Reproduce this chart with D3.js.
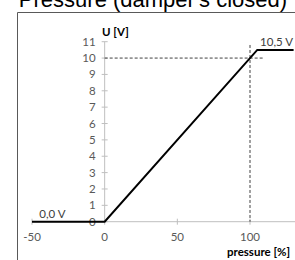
<!DOCTYPE html>
<html><head><meta charset="utf-8">
<script src="https://cdn.jsdelivr.net/npm/d3@7"></script>
<style>body{margin:0;background:#fff}svg{display:block}</style>
</head><body>
<script>
const pressure = [-50, 0, 105, 130];
const voltage = [0, 0, 10.5, 10.5];
const xTicks = [-50, 0, 50, 100];
const yTicks = [0,1,2,3,4,5,6,7,8,9,10,11];
const refX = 100, refY = 10;
const labelStart = "0,0 V", labelEnd = "10,5 V";
const title = "Pressure (damper's closed)";

const W = 295, H = 260;
const svg = d3.select("body").append("svg").attr("width", W).attr("height", H);
const x = d3.scaleLinear().domain([-50, 100]).range([32, 250]);
const y = d3.scaleLinear().domain([0, 11]).range([221.7, 41.7]);
const font = "Lato, 'Open Sans', sans-serif";
const fs = 11.5;

svg.append("text").attr("x", 153).attr("y", 7).attr("text-anchor", "middle")
  .attr("font-family", "'Liberation Sans', Arial, sans-serif").attr("font-size", 22)
  .attr("fill", "#000").text(title);

svg.append("path").attr("d", `M17.5,${H+2}V12.5H${W+2}`).attr("fill", "none")
  .attr("stroke", "#595959").attr("stroke-width", 1);

// axes
const gx = svg.append("g").attr("transform", `translate(0,${y(0)})`);
gx.append("line").attr("x1", x(-50)).attr("x2", W).attr("stroke", "#bfbfbf");
gx.selectAll("line.t").data(xTicks).join("line").attr("class", "t")
  .attr("x1", d => x(d)).attr("x2", d => x(d)).attr("y1", -3).attr("y2", 3).attr("stroke", "#bfbfbf");
gx.selectAll("text").data(xTicks).join("text").attr("x", d => x(d)).attr("y", 19)
  .attr("text-anchor", "middle").attr("font-family", font).attr("font-size", fs)
  .attr("fill", "#595959").text(d => d);

const gy = svg.append("g").attr("transform", `translate(${x(0)},0)`);
gy.append("line").attr("y1", y(0)).attr("y2", y(11)).attr("stroke", "#bfbfbf");
gy.selectAll("line.t").data(yTicks).join("line").attr("class", "t")
  .attr("y1", d => y(d)).attr("y2", d => y(d)).attr("x1", -3).attr("x2", 3).attr("stroke", "#bfbfbf");
gy.selectAll("text").data(yTicks).join("text").attr("x", -9).attr("y", d => y(d) + 4)
  .attr("text-anchor", "end").attr("font-family", font).attr("font-size", fs)
  .attr("fill", "#595959").text(d => d);

// reference dashed lines
svg.append("line").attr("x1", x(0)).attr("x2", x(110)).attr("y1", y(refY)).attr("y2", y(refY))
  .attr("stroke", "#404040").attr("stroke-dasharray", "3,2");
svg.append("line").attr("x1", x(refX)).attr("x2", x(refX)).attr("y1", y(10.8)).attr("y2", y(0))
  .attr("stroke", "#404040").attr("stroke-dasharray", "3,2");

// data line
const pts = pressure.map((p, i) => [p, voltage[i]]);
svg.append("path").datum(pts)
  .attr("d", d3.line().x(d => x(d[0])).y(d => y(d[1])))
  .attr("fill", "none").attr("stroke", "#000").attr("stroke-width", 2);

svg.append("text").attr("x", x(-45)).attr("y", y(0) - 4).attr("font-family", font)
  .attr("font-size", fs).attr("fill", "#404040").text(labelStart);
svg.append("text").attr("x", 293).attr("y", y(10.5) - 4).attr("text-anchor", "end").attr("font-family", font)
  .attr("font-size", fs).attr("fill", "#404040").text(labelEnd);

svg.append("text").attr("x", 102).attr("y", 36).attr("font-family", font).attr("font-weight", "bold")
  .attr("font-size", fs).attr("fill", "#000").text("U [V]");
svg.append("text").attr("x", 227).attr("y", 256).attr("font-family", font).attr("font-weight", "bold")
  .attr("font-size", fs).attr("fill", "#000").text("pressure [%]");
</script>
</body></html>
